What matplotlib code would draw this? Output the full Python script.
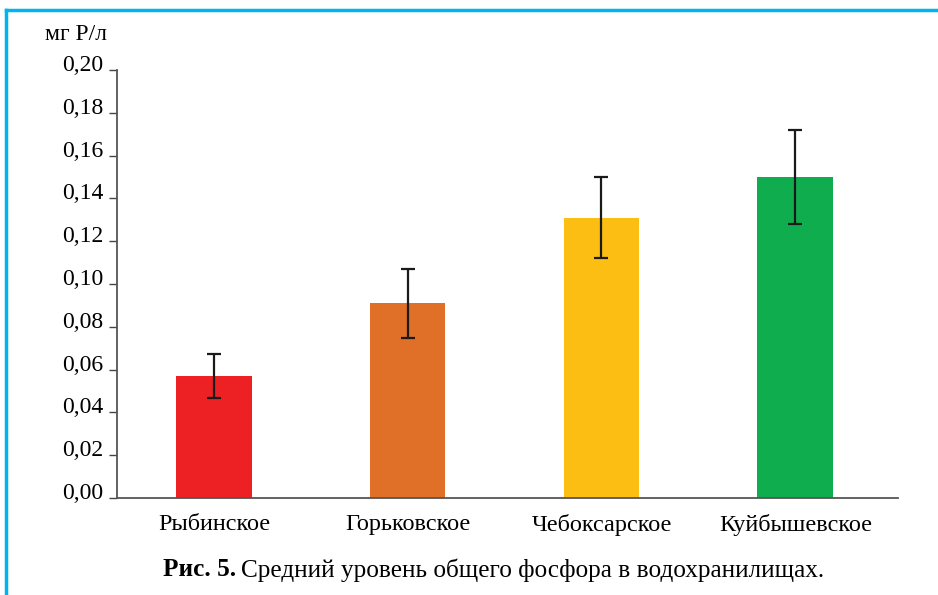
import matplotlib
matplotlib.use("Agg")
import matplotlib.pyplot as plt
from matplotlib.lines import Line2D
from matplotlib.ticker import FuncFormatter
from matplotlib.transforms import ScaledTranslation

plt.rcParams['font.family'] = ['Liberation Serif', 'DejaVu Serif']

# data
reservoirs = ['Рыбинское', 'Горьковское', 'Чебоксарское', 'Куйбышевское']
mean_p = [0.057, 0.091, 0.131, 0.150]
err_low = [0.0467, 0.0748, 0.1121, 0.1280]
err_high = [0.0673, 0.1070, 0.1500, 0.1720]
colors = ['#ED2024', '#E06F28', '#FDBE14', '#10AD4E']
yticks = [0.00, 0.02, 0.04, 0.06, 0.08, 0.10, 0.12, 0.14, 0.16, 0.18, 0.20]

fig = plt.figure(figsize=(9.38, 5.95), dpi=100)
ax = fig.add_axes([117/938, 97/595, 781/938, 428/595])

x = list(range(len(reservoirs)))
yerr = [[m - lo for m, lo in zip(mean_p, err_low)],
        [hi - m for m, hi in zip(mean_p, err_high)]]
ax.bar(x, mean_p, width=0.39, color=colors, zorder=2)
ax.errorbar(x, mean_p, yerr=yerr, fmt='none', ecolor='#1a1a1a',
            elinewidth=1.6, capsize=5, capthick=1.6, zorder=3)

ax.set_xlim(-0.50, 3.53)
ax.set_ylim(0, 0.20)
ax.set_yticks(yticks)
ax.yaxis.set_major_formatter(FuncFormatter(lambda v, p: ('%.2f' % v).replace('.', ',')))
ax.set_xticks(x)
ax.set_xticklabels(reservoirs)
ax.tick_params(axis='x', length=0, pad=11.5, labelsize=17.5)
ax.tick_params(axis='y', length=6, width=1, color='#444444', pad=4, labelsize=17)

# y tick labels sit with their baseline on the tick
shift = ScaledTranslation(0, 7/100, fig.dpi_scale_trans)
for lab in ax.get_yticklabels():
    lab.set_transform(lab.get_transform() + shift)

for s in ['top', 'right']:
    ax.spines[s].set_visible(False)
for s in ['left', 'bottom']:
    ax.spines[s].set_color('#555555')
    ax.spines[s].set_linewidth(1.3)

fig.text(45/938, 1 - 35/595, 'мг Р/л', fontsize=17, va='center', ha='left')

# caption: bold part + regular part
t1 = fig.text(163/938, 1 - 570/595, 'Рис. 5.', fontsize=18.2, fontweight='bold',
              va='center', ha='left')
fig.canvas.draw()
bb = t1.get_window_extent(fig.canvas.get_renderer())
fig.text(bb.x1 / fig.bbox.width + 5/938, 1 - 570/595,
         'Средний уровень общего фосфора в водохранилищах.', fontsize=18.2,
         va='center', ha='left')

# blue frame on top and left
frame_col = '#00B4F0'
fig.add_artist(Line2D([6/938, 1], [1 - 10/595, 1 - 10/595], color=frame_col, lw=2.5,
                      transform=fig.transFigure))
fig.add_artist(Line2D([6/938, 6/938], [0, 1 - 10/595], color=frame_col, lw=2.5,
                      transform=fig.transFigure))

fig.savefig('out.png', dpi=100)
